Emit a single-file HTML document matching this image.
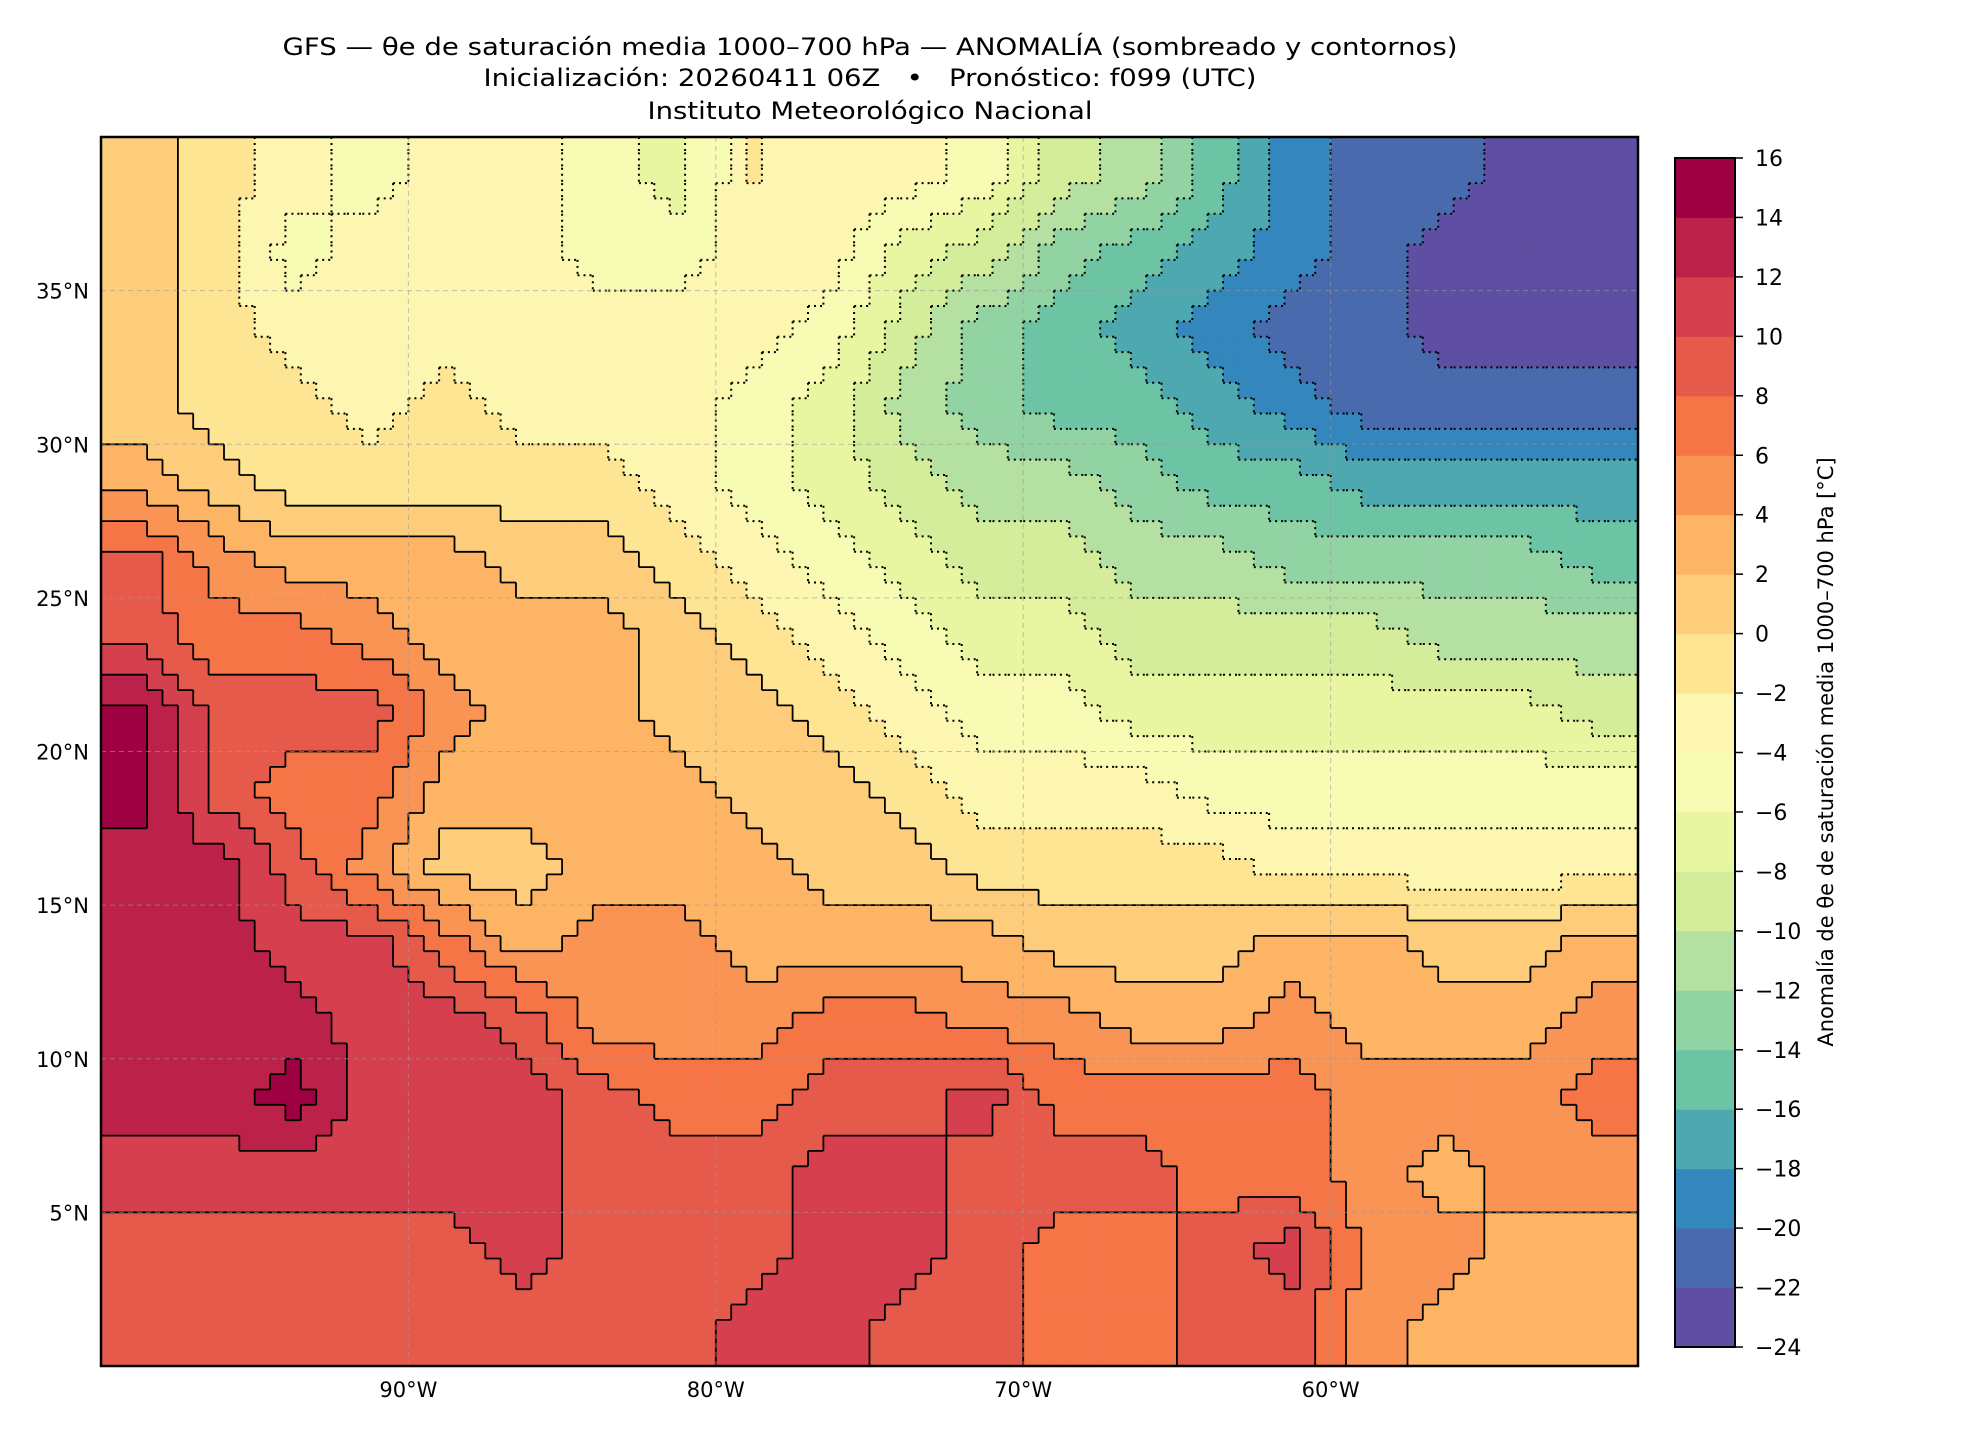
<!DOCTYPE html>
<html><head><meta charset="utf-8"><style>
html,body{margin:0;padding:0;background:#fff;}
svg{display:block;font-family:"DejaVu Sans","Liberation Sans",sans-serif;}
</style></head><body>
<svg id="chart" width="1980" height="1440" viewBox="0 0 1980 1440" xmlns="http://www.w3.org/2000/svg">
<rect width="1980" height="1440" fill="#fff"/>
<g font-size="24" text-anchor="middle" fill="#000">
<text x="870" y="55" textLength="1175" lengthAdjust="spacingAndGlyphs">GFS — θe de saturación media 1000–700 hPa — ANOMALÍA (sombreado y contornos)</text>
<text x="870" y="86" textLength="773" lengthAdjust="spacingAndGlyphs">Inicialización: 20260411 06Z &#160;&#160;•&#160;&#160; Pronóstico: f099 (UTC)</text>
<text x="870" y="119" textLength="445" lengthAdjust="spacingAndGlyphs">Instituto Meteorológico Nacional</text>
</g>
<g id="field"></g>
<g id="contours"></g>
<g id="grid"></g>
<rect x="101" y="137" width="1537" height="1229" fill="none" stroke="#000" stroke-width="2.5"/>
<g id="axes" font-size="21" fill="#000"></g>
<g id="cbar"></g>
<text transform="translate(1833,752) rotate(-90)" text-anchor="middle" font-size="21">Anomalía de θe de saturación media 1000–700 hPa [°C]</text>
</svg>
<script>
// Data grid: 2.5° cells, rows from 40N to 0N, cols from 100W to 50W (anomaly °C)
const lonEdges = [-100, -50];
const latEdges = [40, 0];
const gridStep = 2.5;
const row0 = [1,-1,-3,-5,-3,-3,-5,-7,-2,-3,-3,-5,-9,-11,-15,-19,-21,-21,-23,-23];
const row1 = [1,-1,-5,-3,-3,-3,-5,-5,-3,-3,-7,-9,-13,-15,-17,-19,-21,-23,-23,-23];
const row2 = [1,-1,-3,-3,-3,-3,-3,-3,-3,-5,-9,-13,-15,-17,-19,-21,-21,-23,-23,-23];
const row3 = [1,-1,-1,-3,-1,-3,-3,-3,-5,-7,-11,-13,-15,-15,-17,-19,-21,-21,-21,-21];
const row4 = [3,1,-1,-1,-1,-1,-1,-3,-5,-7,-9,-11,-11,-13,-15,-15,-17,-17,-17,-17];
const row5 = [9,5,3,3,3,1,1,-1,-3,-5,-7,-9,-9,-11,-11,-13,-13,-13,-13,-15];
const row6 = [9,7,7,5,3,3,3,1,-1,-3,-5,-7,-7,-9,-9,-9,-9,-11,-11,-11];
const row7 = [15,9,9,9,5,3,3,1,1,-1,-3,-5,-5,-7,-7,-7,-7,-7,-7,-9];
const row8 = [15,9,7,7,3,3,3,3,1,1,-1,-3,-3,-3,-5,-5,-5,-5,-5,-5];
const row9 = [13,13,9,5,1,1,3,3,3,1,1,-1,-1,-1,-1,-3,-3,-3,-3,-3];
const row10 = [13,13,11,11,7,3,5,5,3,3,3,3,1,1,1,3,3,1,1,3];
const row11 = [13,13,13,11,11,9,5,5,5,7,7,5,5,3,3,5,3,3,3,5];
const row12 = [13,13,15,11,11,11,9,7,7,9,9,11,7,7,7,7,5,5,5,7];
const row13 = [11,11,11,11,11,11,9,9,9,11,11,9,9,9,7,7,5,3,5,5];
const row14 = [9,9,9,9,9,11,9,9,9,11,11,9,7,7,9,11,5,5,3,3];
const row15 = [9,9,9,9,9,9,9,9,11,11,9,9,7,7,9,9,5,3,3,3];
const fieldRows = [row0,row1,row2,row3,row4,row5,row6,row7,row8,row9,row10,row11,row12,row13,row14,row15];
const levels = [-24,-22,-20,-18,-16,-14,-12,-10,-8,-6,-4,-2,0,2,4,6,8,10,12,14,16];
const bandColors = ["#5e4fa2","#4a6aae","#3387bd","#4ea8b0","#6cc4a5","#92d3a4","#b4e0a2","#d4ed9b","#e9f6a1","#f7fbb3","#fcf6b0","#fee593","#fdcd7b","#fdb465","#f99455","#f57547","#e65a4b","#d6404e","#bc2249","#9e0142"];
const latTicks = [35,30,25,20,15,10,5];
const lonTicks = [-90,-80,-70,-60];
const cbarTicks = [16,14,12,10,8,6,4,2,0,-2,-4,-6,-8,-10,-12,-14,-16,-18,-20,-22,-24];

const NS="http://www.w3.org/2000/svg";
const X0=101,X1=1638,Y0=137,Y1=1366;
const xScale=lon=>X0+(lon-lonEdges[0])/(lonEdges[1]-lonEdges[0])*(X1-X0);
const yScale=lat=>Y0+(latEdges[0]-lat)/(latEdges[0]-latEdges[1])*(Y1-Y0);
function mk(tag,attrs,parent){const e=document.createElementNS(NS,tag);for(const k in attrs)e.setAttribute(k,attrs[k]);parent.appendChild(e);return e;}
const nR=fieldRows.length,nC=fieldRows[0].length;
function sample(lon,lat){
  let fc=(lon-lonEdges[0])/gridStep-0.5, fr=(latEdges[0]-lat)/gridStep-0.5;
  fc=Math.max(0,Math.min(nC-1,fc)); fr=Math.max(0,Math.min(nR-1,fr));
  const c0=Math.floor(fc),r0=Math.floor(fr),c1=Math.min(nC-1,c0+1),r1=Math.min(nR-1,r0+1);
  const tx=fc-c0,ty=fr-r0;
  const a=fieldRows[r0][c0]*(1-tx)+fieldRows[r0][c1]*tx;
  const b=fieldRows[r1][c0]*(1-tx)+fieldRows[r1][c1]*tx;
  return a*(1-ty)+b*ty;
}
function band(v){let i=0;while(i<levels.length-2&&v>=levels[i+1])i++;return i;}
const fieldG=document.getElementById('field');
const res=0.5;
const nx=Math.round((lonEdges[1]-lonEdges[0])/res), ny=Math.round((latEdges[0]-latEdges[1])/res);
const B=[];
for(let j=0;j<ny;j++){B.push([]);
  for(let i=0;i<nx;i++){
    const lon=lonEdges[0]+(i+0.5)*res, lat=latEdges[0]-(j+0.5)*res;
    const b=band(sample(lon,lat)); B[j].push(b);
    const x=xScale(lon-res/2), y=yScale(lat+res/2);
    const r=mk('rect',{x:x.toFixed(2),y:y.toFixed(2),width:(xScale(lon+res/2)-x+0.6).toFixed(2),height:(yScale(lat-res/2)-y+0.6).toFixed(2),fill:bandColors[b]},fieldG);
    
    
  }}
// contour edges between bands
let solid="",dotted="";
for(let j=0;j<ny;j++)for(let i=0;i<nx;i++){
  const lon=lonEdges[0]+i*res, lat=latEdges[0]-j*res;
  if(i<nx-1&&B[j][i]!==B[j][i+1]){const lv=levels[Math.max(B[j][i],B[j][i+1])];const s=`M${xScale(lon+res).toFixed(1)},${yScale(lat).toFixed(1)}V${yScale(lat-res).toFixed(1)}`;if(lv>=0)solid+=s;else dotted+=s;}
  if(j<ny-1&&B[j][i]!==B[j+1][i]){const lv=levels[Math.max(B[j][i],B[j+1][i])];const s=`M${xScale(lon).toFixed(1)},${yScale(lat-res).toFixed(1)}H${xScale(lon+res).toFixed(1)}`;if(lv>=0)solid+=s;else dotted+=s;}
}
const cg=document.getElementById('contours');
const p1=mk('path',{d:solid,stroke:"#000","stroke-width":1.8,fill:"none"},cg);


const p2=mk('path',{d:dotted,stroke:"#000","stroke-width":2,fill:"none","stroke-dasharray":"2 4"},cg);


// grid & labels
const gg=document.getElementById('grid'),ag=document.getElementById('axes');
latTicks.forEach(lat=>{
  const y=yScale(lat);
  const l=mk('line',{x1:X0,x2:X1,y1:y,y2:y,stroke:"#999","stroke-width":1,"stroke-dasharray":"5 4","stroke-opacity":0.6},gg);
  
  
  const t=mk('text',{x:89,y:y+8,"text-anchor":"end"},ag);t.textContent=lat+"°N";
  
  
});
lonTicks.forEach(lon=>{
  const x=xScale(lon);
  const l=mk('line',{x1:x,x2:x,y1:Y0,y2:Y1,stroke:"#999","stroke-width":1,"stroke-dasharray":"5 4","stroke-opacity":0.6},gg);
  
  
  const t=mk('text',{x:x,y:1397,"text-anchor":"middle"},ag);t.textContent=(-lon)+"°W";
  
  
});
// colorbar
const cb=document.getElementById('cbar');
const CX=1675,CW=60,CT=158,CB=1347;
const cy=v=>CB-(v-levels[0])/(levels[levels.length-1]-levels[0])*(CB-CT);
for(let k=0;k<bandColors.length;k++){
  const r=mk('rect',{x:CX,y:cy(levels[k+1]),width:CW,height:cy(levels[k])-cy(levels[k+1])+0.5,fill:bandColors[k]},cb);
  
  
}
mk('rect',{x:CX,y:CT,width:CW,height:CB-CT,fill:"none",stroke:"#000","stroke-width":2},cb);
cbarTicks.forEach(v=>{
  const y=cy(v);
  mk('line',{x1:CX+CW,x2:CX+CW+8,y1:y,y2:y,stroke:"#000","stroke-width":1.5},cb);
  const t=mk('text',{x:1755,y:y+8,"font-size":22},cb);t.textContent=(v<0?"−"+(-v):String(v));
  
  
});
</script>
</body></html>
